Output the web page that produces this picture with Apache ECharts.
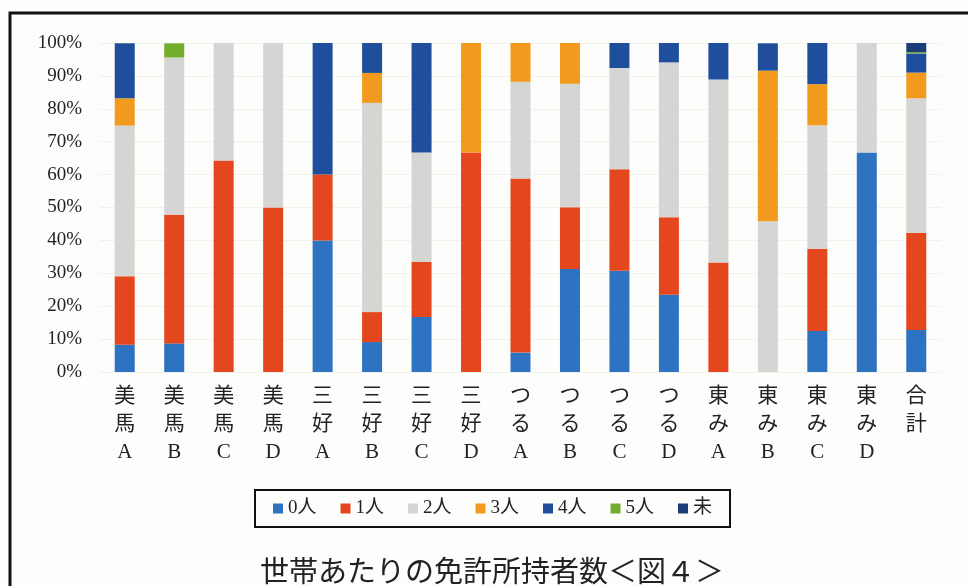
<!DOCTYPE html>
<html>
<head>
<meta charset="utf-8">
<script src="https://cdn.jsdelivr.net/npm/echarts@6/dist/echarts.min.js"></script>
<style>
  html, body { margin: 0; padding: 0; background: #fdfdfb; }
  #main { width: 968px; height: 586px; }
</style>
</head>
<body>
<div id="main"></div>
<script>
// 地区ごとのカテゴリ（縦書き）
var categories = ['美\n馬\nA', '美\n馬\nB', '美\n馬\nC', '美\n馬\nD', '三\n好\nA', '三\n好\nB', '三\n好\nC', '三\n好\nD',
  'つ\nる\nA', 'つ\nる\nB', 'つ\nる\nC', 'つ\nる\nD', '東\nみ\nA', '東\nみ\nB', '東\nみ\nC', '東\nみ\nD', '合\n計'];

// 構成比(%)
var p0 = [8.3, 8.7, 0, 0, 40, 9.1, 16.7, 0, 5.9, 31.3, 30.8, 23.5, 0, 0, 12.5, 66.7, 12.8];
var p1 = [20.8, 39.1, 64.3, 50, 20, 9.1, 16.7, 66.7, 52.9, 18.8, 30.8, 23.5, 33.3, 0, 25, 0, 29.5];
var p2 = [45.8, 47.8, 35.7, 50, 0, 63.6, 33.3, 0, 29.4, 37.5, 30.8, 47.1, 55.6, 45.8, 37.5, 33.3, 40.9];
var p3 = [8.3, 0, 0, 0, 0, 9.1, 0, 33.3, 11.8, 12.5, 0, 0, 0, 45.8, 12.5, 0, 7.8];
var p4 = [16.7, 0, 0, 0, 40, 9.1, 33.3, 0, 0, 0, 7.7, 5.9, 11.1, 8.3, 12.5, 0, 5.8];
var p5 = [0, 4.3, 0, 0, 0, 0, 0, 0, 0, 0, 0, 0, 0, 0, 0, 0, 0.4];
var p6 = [0, 0, 0, 0, 0, 0, 0, 0, 0, 0, 0, 0, 0, 0, 0, 0, 2.8];

var names = ['0人', '1人', '2人', '3人', '4人', '5人', '未'];
var values = [p0, p1, p2, p3, p4, p5, p6];
var colors = ['#2e72c2', '#e4461d', '#d5d5d3', '#f29a1e', '#1f4f9c', '#72ad2e', '#1a3f78'];

var serif = '"Liberation Serif", "Noto Sans CJK JP", serif';

var seriesList = [];
for (var i = 0; i < names.length; i++) {
  seriesList.push({
    name: names[i],
    type: 'bar',
    stack: 'all',
    barWidth: 20,
    itemStyle: { color: colors[i] },
    data: values[i]
  });
}

var myChart = echarts.init(document.getElementById('main'));
var option = {
  backgroundColor: '#fdfdfb',
  color: colors,
  animation: false,
  title: {
    text: '世帯あたりの免許所持者数＜図４＞',
    left: 487,
    textAlign: 'center',
    top: 551,
    textStyle: {
      fontFamily: '"Noto Sans CJK JP", sans-serif',
      fontSize: 29,
      fontWeight: 'normal',
      color: '#222'
    }
  },
  legend: {
    left: 255,
    top: 490,
    padding: [9, 18, 9, 18],
    borderColor: '#111',
    borderWidth: 2,
    itemWidth: 10,
    itemHeight: 10,
    itemGap: 24,
    icon: 'rect',
    data: names,
    textStyle: {
      fontFamily: serif,
      fontSize: 19,
      color: '#222'
    }
  },
  graphic: [{
    type: 'rect',
    shape: { x: 10, y: 13, width: 1000, height: 700 },
    style: { fill: 'none', stroke: '#111', lineWidth: 3 },
    silent: true
  }],
  grid: {
    left: 100,
    right: 27,
    top: 43,
    bottom: 214
  },
  xAxis: {
    type: 'category',
    data: categories,
    axisLine: { show: false },
    axisTick: { show: false },
    axisLabel: {
      interval: 0,
      margin: 10,
      fontFamily: serif,
      fontSize: 21,
      lineHeight: 28,
      color: '#222'
    }
  },
  yAxis: {
    type: 'value',
    min: 0,
    max: 100,
    interval: 10,
    axisLine: { show: false },
    axisTick: { show: false },
    splitLine: { lineStyle: { color: '#f1f1ee', width: 1 } },
    axisLabel: {
      formatter: '{value}%',
      margin: 18,
      fontFamily: serif,
      fontSize: 19,
      color: '#222'
    }
  },
  series: seriesList
};
myChart.setOption(option);
</script>
</body>
</html>
